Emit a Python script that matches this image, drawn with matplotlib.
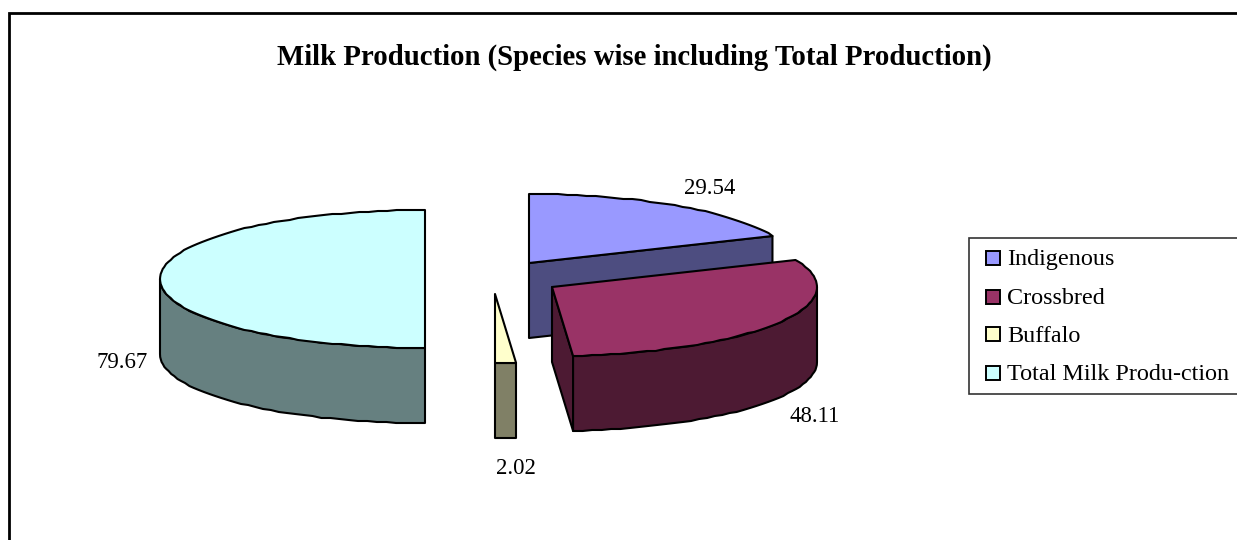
#!/usr/bin/env python3
"""Exploded 3D-look pie of milk production by species."""

import matplotlib
matplotlib.use("Agg")
import matplotlib.pyplot as plt
import numpy as np
from matplotlib.patches import Polygon, Rectangle

categories = ["Indigenous", "Crossbred", "Buffalo", "Total Milk Produ-ction"]
values = [29.54, 48.11, 2.02, 79.67]
value_labels = ["29.54", "48.11", "2.02", "79.67"]
title = "Milk Production (Species wise including Total Production)"

top_colors = ["#9999FF", "#993366", "#FFFFCC", "#CCFFFF"]
side_colors = ["#4D4D80", "#4D1A33", "#808066", "#668080"]

# slice pivots in image pixels, each one is exploded away from the others
centers = [(529, 263), (552, 287), (495, 294), (425, 279)]
label_pos = [(710, 188), (815, 416), (516, 468), (122, 362)]
RX, RY, DEPTH = 265, 69, 75

plt.rcParams["font.family"] = ["Liberation Serif", "DejaVu Serif"]

fig = plt.figure(figsize=(12.37, 5.4), dpi=100)
ax = fig.add_axes([0, 0, 1, 1])
ax.set_xlim(0, 1237)
ax.set_ylim(540, 0)
ax.axis("off")


def rim(cx, cy, start, end):
    """Points on the ellipse, angles clockwise from 12 o'clock, snapped for the stepped edge."""
    n = max(2, int(abs(end - start) / 2.0))
    t = np.radians(np.linspace(start, end, n))
    x = cx + RX * np.sin(t)
    y = cy - RY * np.cos(t)
    return np.column_stack([x, np.round(y)])


def poly(points, color, z):
    ax.add_patch(Polygon(points, closed=True, facecolor=color, edgecolor="black",
                         linewidth=1.5, joinstyle="round", zorder=z))


# outer frame runs off the right and bottom of the image
ax.add_patch(Rectangle((9, 13), 1400, 700, facecolor="white", edgecolor="black",
                       linewidth=2.0, zorder=0))

shares = np.array(values) / sum(values) * 360
bounds = np.concatenate([[0], np.cumsum(shares)])

for i, (cx, cy) in enumerate(centers):
    start, end = bounds[i], bounds[i + 1]
    z = 2 + i
    pivot = np.array([cx, cy])
    drop = np.array([0, DEPTH])
    arc = rim(cx, cy, start, end)

    # cut face at the end of the slice, the half-disc one has none showing
    if end < 180:
        poly([pivot, arc[-1], arc[-1] + drop, pivot + drop], side_colors[i], z)

    # front wall, only the part below the ellipse's widest point shows
    lo, hi = max(start, 90), min(end, 270)
    if hi > lo:
        front = rim(cx, cy, lo, hi)
        poly(np.vstack([front, (front + drop)[::-1]]), side_colors[i], z)

    poly(np.vstack([pivot, arc]), top_colors[i], z)

for (x, y), text in zip(label_pos, value_labels):
    ax.text(x, y, text, fontsize=16.4, ha="center", va="center", color="black", zorder=10)

ax.text(634, 57, title, fontsize=20.7, fontweight="bold", ha="center", va="center",
        color="black", zorder=10)

# legend box also runs off the right edge
ax.add_patch(Rectangle((969, 238), 400, 156, facecolor="white", edgecolor="#333333",
                       linewidth=1.2, zorder=1))
legend_y = [258, 297, 334, 373]
for name, color, y in zip(categories, top_colors, legend_y):
    ax.add_patch(Rectangle((986, y - 7), 14, 14, facecolor=color, edgecolor="black",
                           linewidth=1.4, zorder=2))
    ax.text(1007, y + 2, name, fontsize=17.4, ha="left", va="center", color="black", zorder=3)

fig.savefig("out.png", dpi=100)
